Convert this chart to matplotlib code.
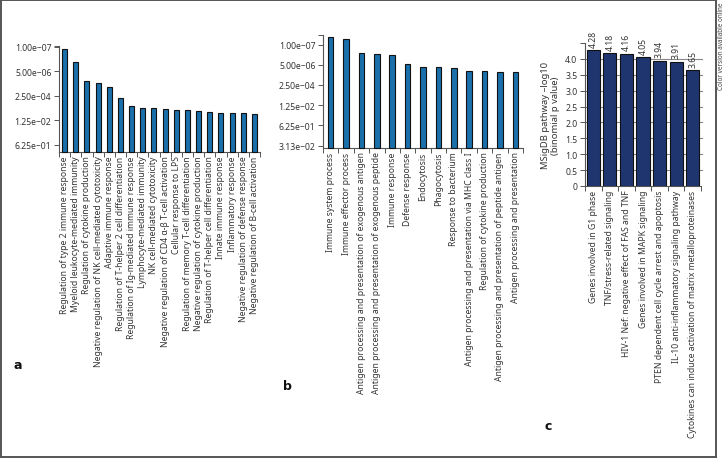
import matplotlib
matplotlib.use("Agg")
import matplotlib.pyplot as plt
import numpy as np
from matplotlib.ticker import NullLocator, FixedLocator
from matplotlib.lines import Line2D

plt.rcParams['font.family'] = ['Noto Sans', 'DejaVu Sans']

# ---------------- data ----------------
cats_a = [
    "Regulation of type 2 immune response",
    "Myeloid leukocyte-mediated immunity",
    "Regulation of cytokine production",
    "Negative regulation of NK cell-mediated cytotoxicity",
    "Adaptive immune response",
    "Regulation of T-helper 2 cell differentiation",
    "Regulation of Ig-mediated immune response",
    "Lymphocyte-mediated immunity",
    "NK cell-mediated cytotoxicity",
    "Negative regulation of CD4 α-β T-cell activation",
    "Cellular response to LPS",
    "Regulation of memory T-cell differentiation",
    "Negative regulation of cytokine production",
    "Regulation of T-helper cell differentiation",
    "Innate immune response",
    "Inflammatory response",
    "Negative regulation of defense response",
    "Negative regulation of B-cell activation",
]
pvals_a = [1.48e-7, 1.22e-6, 2.39e-5, 3.54e-5, 6.87e-5, 3.85e-4, 1.40e-3, 1.84e-3,
           1.84e-3, 2.24e-3, 2.51e-3, 2.61e-3, 3.06e-3, 3.30e-3, 3.72e-3, 3.86e-3,
           4.18e-3, 5.08e-3]

cats_b = [
    "Immune system process",
    "Immune effector process",
    "Antigen processing and presentation of exogenous antigen",
    "Antigen processing and presentation of exogenous peptide",
    "Immune response",
    "Defense response",
    "Endocytosis",
    "Phagocytosis",
    "Response to bacterium",
    "Antigen processing and presentation via MHC class I",
    "Regulation of cytokine production",
    "Antigen processing and presentation of peptide antigen",
    "Antigen processing and presentation",
]
pvals_b = [2.18e-8, 3.21e-8, 4.79e-7, 5.82e-7, 7.96e-7, 4.11e-6, 7.11e-6, 8.31e-6,
           1.01e-5, 1.68e-5, 1.82e-5, 1.97e-5, 2.21e-5]

ytick_vals_a = [1e-7, 5e-6, 2.5e-4, 1.25e-2, 6.25e-1]
ytick_labels_a = ["1.00e\u221207", "5.00e\u221206", "2.50e\u221204", "1.25e\u221202", "6.25e\u221201"]
ytick_vals_b = [1e-7, 5e-6, 2.5e-4, 1.25e-2, 6.25e-1, 31.25]
ytick_labels_b = ["1.00e\u221207", "5.00e\u221206", "2.50e\u221204", "1.25e\u221202", "6.25e\u221201", "3.13e\u221202"]

cats_c = [
    "Genes involved in G1 phase",
    "TNF/stress-related signaling",
    "HIV-1 Nef: negative effect of FAS and TNF",
    "Genes involved in MAPK signaling",
    "PTEN dependent cell cycle arrest and apoptosis",
    "IL-10 anti-inflammatory signaling pathway",
    "Cytokines can induce activation of matrix metalloproteinases",
]
vals_c = [4.28, 4.18, 4.16, 4.05, 3.94, 3.91, 3.65]
ytick_vals_c = [0, 0.5, 1.0, 1.5, 2.0, 2.5, 3.0, 3.5, 4.0]
ytick_labels_c = ["0", "0.5", "1.0", "1.5", "2.0", "2.5", "3.0", "3.5", "4.0"]

# ---------------- style ----------------
W, H = 725, 460
fig = plt.figure(figsize=(W / 100, H / 100), dpi=100)
TXT = "#333333"
SP = "#555555"
FS = 6.2
BLUE = "#1a70ab"
NAVY = "#1f3570"


def fx(px):
    return px / W


def fy(py):
    return 1 - py / H


def style_axes(ax, n):
    for s in ("top", "right"):
        ax.spines[s].set_visible(False)
    for s in ("left", "bottom"):
        ax.spines[s].set_color(SP)
        ax.spines[s].set_linewidth(0.8)
    ax.set_xlim(-0.5, n - 0.5)
    ax.set_xticks(np.arange(n))
    ax.xaxis.set_minor_locator(FixedLocator(np.arange(n + 1) - 0.5))
    ax.tick_params(axis="x", which="major", length=0, pad=2.5, labelsize=FS, labelcolor=TXT)
    ax.tick_params(axis="x", which="minor", length=3.5, width=0.7, color=SP)
    ax.tick_params(axis="y", which="major", length=3.5, width=0.7, color=SP,
                   labelsize=FS, labelcolor=TXT, pad=2)
    ax.tick_params(axis="y", which="minor", length=0)


def pval_panel(rect, cats, pvals, base, top, tvals, tlabels, width):
    ax = fig.add_axes(rect)
    ax.set_yscale("log")
    ax.set_ylim(base, top)
    n = len(cats)
    x = np.arange(n)
    p = np.array(pvals)
    ax.bar(x, p - base, bottom=base, width=width, color=BLUE,
           edgecolor="#111111", linewidth=0.8, clip_on=False, zorder=3)
    style_axes(ax, n)
    ax.yaxis.set_minor_locator(NullLocator())
    ax.set_yticks(list(tvals) + [top])
    ax.set_yticklabels(list(tlabels) + [""])
    ax.set_xticklabels(cats, rotation=90, ha="center", va="top")
    return ax


# panel a
pval_panel([fx(59), fy(153), fx(260) - fx(59), fy(47) - fy(153)],
           cats_a, pvals_a, 2.02, 9.2e-8, ytick_vals_a, ytick_labels_a, 0.45)

# panel b
pval_panel([fx(323), fy(149), fx(523) - fx(323), fy(36) - fy(149)],
           cats_b, pvals_b, 50.0, 1.59e-8, ytick_vals_b, ytick_labels_b, 0.36)

# panel c
axc = fig.add_axes([fx(585), fy(187), fx(701) - fx(585), fy(44) - fy(187)])
nc = len(cats_c)
xc = np.arange(nc)
axc.bar(xc, vals_c, width=0.8, color=NAVY, edgecolor="#111111", linewidth=0.8, zorder=3)
style_axes(axc, nc)
axc.set_ylim(0, 4.5)
axc.set_yticks(ytick_vals_c + [4.5])
axc.set_yticklabels(ytick_labels_c + [""])
axc.set_xticklabels(cats_c, rotation=90, ha="center", va="top")
for yv in ytick_vals_c[1:]:
    axc.axhline(yv, color="#888888", linewidth=0.8, zorder=1, xmax=1.01, clip_on=False)
for xi, v in zip(xc, vals_c):
    axc.annotate(f"{v:.2f}", (xi, v), xytext=(0, 2.5), textcoords="offset points",
                 rotation=90, ha="center", va="bottom", fontsize=FS, color=TXT)
axc.set_ylabel("MSigDB pathway \u2013log10\n(binomial p value)", fontsize=FS + 0.6,
               color=TXT, labelpad=4, linespacing=1.1)

# panel letters
for lx, ly, t in [(18, 366, "a"), (287, 387, "b"), (548, 427, "c")]:
    fig.text(fx(lx), fy(ly), t, fontsize=9, fontweight="bold", family="DejaVu Sans",
             color="#111111", ha="center", va="center")

# frame
fc = "#555555"
fig.add_artist(Line2D([fx(0.7), fx(0.7)], [fy(0.7), fy(458)], color=fc, lw=1.4))
fig.add_artist(Line2D([fx(0), fx(716)], [fy(458), fy(458)], color=fc, lw=1.4))
fig.add_artist(Line2D([fx(0), fx(716)], [fy(0.7), fy(0.7)], color=fc, lw=1.4))
fig.add_artist(Line2D([fx(716), fx(716)], [fy(0), fy(458)], color=fc, lw=1.4))
fig.text(fx(721.5), fy(3), "Color version available online", rotation=90,
         fontsize=4.6, color="#444444", ha="center", va="top")

fig.savefig("out.png", dpi=100)
